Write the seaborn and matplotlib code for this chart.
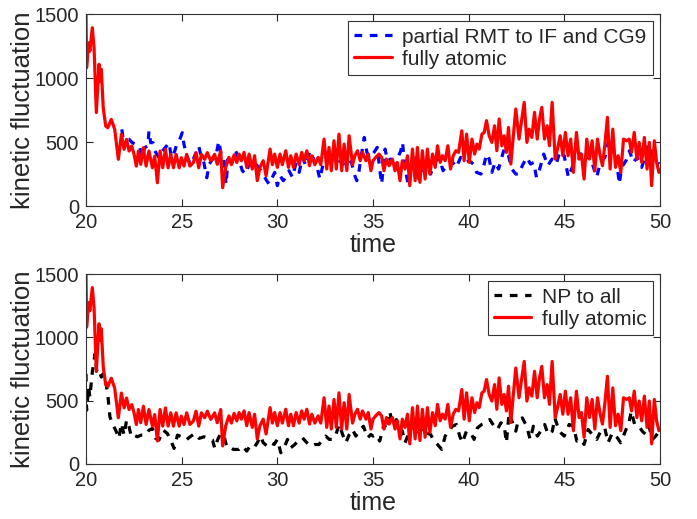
import matplotlib
matplotlib.use("Agg")
import matplotlib.pyplot as plt
import seaborn as sns

# fully atomic (same trace in both panels)
red_t = [20.0, 20.03, 20.14, 20.2, 20.33, 20.42, 20.54, 20.68, 20.73, 20.8, 20.9, 21.03, 21.14, 21.32, 21.5,
         21.69, 21.85, 21.99, 22.12, 22.25, 22.39, 22.51, 22.63, 22.74, 22.86, 23.0, 23.14, 23.29, 23.47, 23.59,
         23.73, 23.87, 24.01, 24.15, 24.29, 24.43, 24.57, 24.71, 24.87, 24.98, 25.12, 25.26, 25.43, 25.61, 25.75,
         25.89, 26.03, 26.2, 26.34, 26.52, 26.72, 26.86, 27.04, 27.14, 27.3, 27.47, 27.6, 27.74, 27.88, 28.0,
         28.12, 28.26, 28.4, 28.52, 28.69, 28.81, 28.95, 29.09, 29.26, 29.41, 29.62, 29.74, 29.86, 30.0, 30.14,
         30.26, 30.44, 30.58, 30.7, 30.84, 30.98, 31.14, 31.27, 31.4, 31.54, 31.68, 31.8, 31.96, 32.13, 32.27,
         32.44, 32.58, 32.7, 32.82, 32.96, 33.08, 33.22, 33.36, 33.49, 33.63, 33.75, 33.93, 34.05, 34.19, 34.33,
         34.45, 34.63, 34.75, 34.89, 35.0, 35.14, 35.31, 35.45, 35.57, 35.7, 35.84, 36.01, 36.15, 36.27, 36.41,
         36.53, 36.67, 36.8, 36.92, 37.06, 37.2, 37.32, 37.45, 37.58, 37.72, 37.84, 37.97, 38.11, 38.25, 38.37,
         38.51, 38.63, 38.77, 38.91, 39.05, 39.19, 39.33, 39.47, 39.64, 39.76, 39.89, 40.03, 40.17, 40.31, 40.43,
         40.55, 40.69, 40.81, 40.93, 41.07, 41.21, 41.35, 41.47, 41.59, 41.73, 41.85, 41.97, 42.08, 42.2, 42.32,
         42.46, 42.63, 42.75, 42.9, 43.04, 43.16, 43.3, 43.44, 43.58, 43.7, 43.82, 43.96, 44.1, 44.22, 44.36,
         44.52, 44.66, 44.78, 44.92, 45.05, 45.19, 45.33, 45.47, 45.63, 45.77, 45.89, 46.03, 46.17, 46.31, 46.45,
         46.59, 46.73, 46.87, 46.99, 47.11, 47.25, 47.39, 47.53, 47.67, 47.81, 47.95, 48.09, 48.25, 48.39, 48.51,
         48.65, 48.79, 48.91, 49.04, 49.18, 49.32, 49.44, 49.56, 49.7, 49.82, 49.94, 50.0]
red_v = [1500, 1080, 1275, 1210, 1393, 1237, 730, 1107, 977, 1068, 768, 625, 612, 677, 599,
         365, 560, 443, 521, 430, 469, 404, 312, 430, 326, 456, 312, 430, 299, 390,
         182, 430, 299, 443, 299, 404, 299, 404, 299, 378, 312, 404, 312, 339, 417,
         299, 404, 365, 417, 352, 404, 326, 430, 143, 300, 380, 323, 400, 340, 406,
         354, 419, 302, 406, 289, 393, 198, 302, 354, 237, 445, 323, 406, 302, 406,
         323, 432, 302, 393, 302, 406, 323, 419, 354, 432, 315, 393, 323, 380, 323,
         523, 289, 458, 276, 510, 289, 562, 276, 484, 276, 549, 323, 393, 432, 354,
         419, 354, 406, 276, 354, 380, 406, 380, 276, 367, 315, 367, 276, 341, 198,
         354, 289, 393, 159, 445, 198, 458, 185, 432, 211, 445, 250, 406, 302, 471,
         341, 393, 354, 471, 289, 393, 432, 419, 588, 354, 562, 341, 523, 406, 484,
         445, 562, 575, 667, 549, 497, 627, 432, 680, 471, 549, 419, 614, 328, 523,
         758, 523, 654, 810, 497, 601, 536, 732, 523, 680, 771, 523, 627, 471, 810,
         367, 458, 549, 393, 575, 393, 523, 263, 575, 367, 406, 211, 523, 367, 510,
         276, 523, 393, 315, 471, 693, 289, 601, 302, 393, 263, 523, 510, 523, 419,
         575, 367, 497, 341, 536, 289, 497, 159, 510, 341, 263, 280]

# partial RMT to IF and CG9
blue_t = [21.87, 21.95, 22.25, 22.42, 22.8, 22.92, 23.06, 23.23, 23.29, 23.38, 23.5, 23.6, 23.81, 23.99, 24.21,
          24.34, 24.46, 24.64, 24.74, 24.87, 25.03, 25.12, 25.26, 25.46, 25.64, 25.89, 26.03, 26.16, 26.31, 26.44,
          26.6, 26.77, 26.94, 27.06, 27.2, 27.32, 27.42, 27.55, 27.82, 28.0, 28.17, 28.35, 28.52, 28.75, 28.95,
          29.21, 29.39, 29.56, 29.74, 29.86, 30.0, 30.14, 30.31, 30.44, 30.61, 30.79, 30.96, 31.14, 31.31, 31.49,
          31.71, 31.89, 32.06, 32.22, 32.41, 32.62, 32.8, 33.0, 33.23, 33.45, 33.66, 33.87, 34.05, 34.15, 34.27,
          34.4, 34.54, 34.68, 34.85, 35.05, 35.22, 35.35, 35.45, 35.63, 35.75, 35.93, 36.1, 36.27, 36.45, 36.54,
          36.68, 36.85, 37.03, 37.23, 37.4, 37.58, 37.79, 38.01, 38.24, 38.48, 38.66, 38.88, 39.11, 39.35, 39.58,
          39.81, 40.03, 40.24, 40.41, 40.64, 40.81, 40.93, 41.07, 41.21, 41.38, 41.56, 41.68, 41.85, 42.08, 42.25,
          42.46, 42.63, 42.8, 43.03, 43.23, 43.4, 43.54, 43.71, 43.92, 44.13, 44.35, 44.57, 44.78, 44.99, 45.21,
          45.44, 45.65, 45.91, 46.08, 46.31, 46.52, 46.69, 46.9, 47.12, 47.35, 47.52, 47.73, 47.87, 47.99, 48.22,
          48.4, 48.6, 48.81, 49.04, 49.21, 49.39, 49.61, 49.86, 49.96]
blue_v = [599, 521, 521, 495, 469, 378, 456, 469, 586, 495, 495, 430, 378, 430, 469,
          495, 378, 430, 482, 508, 573, 482, 391, 326, 378, 469, 378, 339, 221, 326,
          365, 378, 508, 404, 378, 169, 367, 302, 432, 354, 276, 250, 328, 354, 315,
          263, 211, 172, 224, 263, 159, 237, 198, 224, 276, 224, 328, 263, 380, 315,
          432, 367, 315, 211, 341, 419, 341, 393, 354, 328, 367, 341, 237, 198, 276,
          406, 536, 419, 380, 419, 458, 289, 172, 445, 354, 367, 276, 367, 432, 497,
          289, 159, 289, 406, 211, 289, 328, 250, 354, 367, 276, 328, 354, 302, 380,
          341, 354, 328, 263, 250, 328, 406, 367, 263, 341, 289, 354, 445, 393, 289,
          250, 250, 315, 380, 328, 341, 224, 289, 406, 315, 367, 328, 432, 393, 224,
          315, 328, 419, 367, 393, 302, 224, 354, 380, 536, 419, 354, 172, 302, 354,
          432, 341, 380, 302, 380, 484, 393, 341, 328]

# NP to all
black_t = [20.0, 20.03, 20.14, 20.2, 20.33, 20.47, 20.57, 20.68, 20.8, 20.9, 21.03, 21.15, 21.25, 21.37, 21.55,
           21.72, 21.85, 21.99, 22.12, 22.25, 22.37, 22.51, 22.68, 22.89, 23.12, 23.29, 23.47, 23.64, 23.81, 24.04,
           24.25, 24.46, 24.6, 24.78, 24.99, 25.22, 25.44, 25.69, 25.91, 26.17, 26.38, 26.61, 26.73, 26.87, 27.04,
           27.22, 27.36, 27.47, 27.7, 28.0, 28.17, 28.4, 28.57, 28.78, 28.95, 29.13, 29.26, 29.47, 29.65, 29.83,
           30.0, 30.18, 30.35, 30.53, 30.7, 30.91, 31.08, 31.31, 31.54, 31.75, 31.96, 32.18, 32.36, 32.53, 32.71,
           32.88, 33.06, 33.23, 33.41, 33.58, 33.76, 33.93, 34.1, 34.33, 34.5, 34.71, 34.89, 35.0, 35.17, 35.35,
           35.57, 35.75, 35.87, 36.04, 36.22, 36.39, 36.53, 36.67, 36.85, 37.02, 37.23, 37.4, 37.61, 37.79, 38.01,
           38.19, 38.37, 38.59, 38.77, 38.94, 39.15, 39.36, 39.53, 39.67, 39.88, 40.1, 40.28, 40.45, 40.68, 40.89,
           41.1, 41.33, 41.5, 41.68, 41.85, 41.97, 42.11, 42.29, 42.46, 42.58, 42.8, 43.03, 43.21, 43.38, 43.59,
           43.76, 43.97, 44.15, 44.37, 44.5, 44.73, 44.99, 45.25, 45.48, 45.65, 45.86, 46.03, 46.24, 46.46, 46.69,
           46.9, 47.11, 47.28, 47.51, 47.77, 47.94, 48.15, 48.37, 48.5, 48.67, 48.9, 49.07, 49.25, 49.42, 49.6,
           49.77, 49.95]
black_v = [712, 424, 607, 529, 725, 869, 725, 738, 686, 712, 660, 529, 372, 320, 267,
           202, 320, 228, 346, 294, 215, 228, 215, 228, 228, 267, 280, 202, 189, 267,
           241, 176, 123, 228, 215, 189, 215, 241, 202, 215, 202, 189, 123, 189, 241,
           215, 136, 141, 115, 115, 141, 102, 141, 128, 168, 220, 168, 141, 168, 154,
           194, 89, 128, 194, 128, 154, 181, 207, 168, 141, 154, 154, 194, 220, 194,
           194, 233, 312, 233, 168, 233, 272, 220, 272, 298, 207, 233, 220, 233, 181,
           312, 272, 416, 298, 351, 285, 259, 168, 233, 272, 325, 246, 285, 246, 233,
           181, 154, 115, 220, 259, 298, 312, 220, 168, 259, 246, 194, 285, 312, 325,
           351, 298, 272, 325, 312, 168, 404, 325, 259, 338, 364, 298, 194, 298, 220,
           259, 312, 233, 259, 364, 259, 220, 312, 298, 181, 194, 154, 272, 233, 194,
           259, 285, 168, 246, 207, 168, 246, 325, 416, 312, 298, 259, 233, 298, 194,
           220, 259]

sns.set_style("ticks")
plt.rcParams["font.family"] = ["Liberation Sans", "DejaVu Sans"]

fig = plt.figure(figsize=(6.97, 5.19), dpi=100)
ax1 = fig.add_axes([0.1234, 0.603, 0.8236, 0.370])
ax2 = fig.add_axes([0.1234, 0.106, 0.8236, 0.366])

dash = (0, (2.4, 2.4))

sns.lineplot(x=blue_t, y=blue_v, ax=ax1, color="#0000ff", linewidth=2.3,
             linestyle=dash, label="partial RMT to IF and CG9", estimator=None)
sns.lineplot(x=red_t, y=red_v, ax=ax1, color="#ff0000", linewidth=2.3,
             label="fully atomic", estimator=None)

sns.lineplot(x=black_t, y=black_v, ax=ax2, color="black", linewidth=2.3,
             linestyle=dash, label="NP to all", estimator=None)
sns.lineplot(x=red_t, y=red_v, ax=ax2, color="#ff0000", linewidth=2.3,
             label="fully atomic", estimator=None)

for ax in (ax1, ax2):
    ax.set_xlim(20, 50)
    ax.set_ylim(0, 1500)
    ax.set_xticks([20, 25, 30, 35, 40, 45, 50])
    ax.set_yticks([0, 500, 1000, 1500])
    ax.tick_params(direction="in", top=True, right=True, labelsize=14.5, length=5, width=0.8)
    ax.tick_params(axis="x", pad=5)
    ax.tick_params(axis="y", pad=5)
    for s in ax.spines.values():
        s.set_visible(True)
        s.set_linewidth(0.8)
        s.set_color("#333333")
    ax.set_xlabel("time", fontsize=18, labelpad=1)
    ax.set_ylabel("kinetic fluctuation", fontsize=18.5, labelpad=0)
    leg = ax.legend(loc="upper right", fontsize=15, fancybox=False, framealpha=1,
                    edgecolor="#333333", handlelength=1.8, borderaxespad=0.35,
                    handletextpad=0.5, labelspacing=0.15, borderpad=0.3)
    leg.get_frame().set_linewidth(0.8)

fig.savefig("out.png", dpi=100)
